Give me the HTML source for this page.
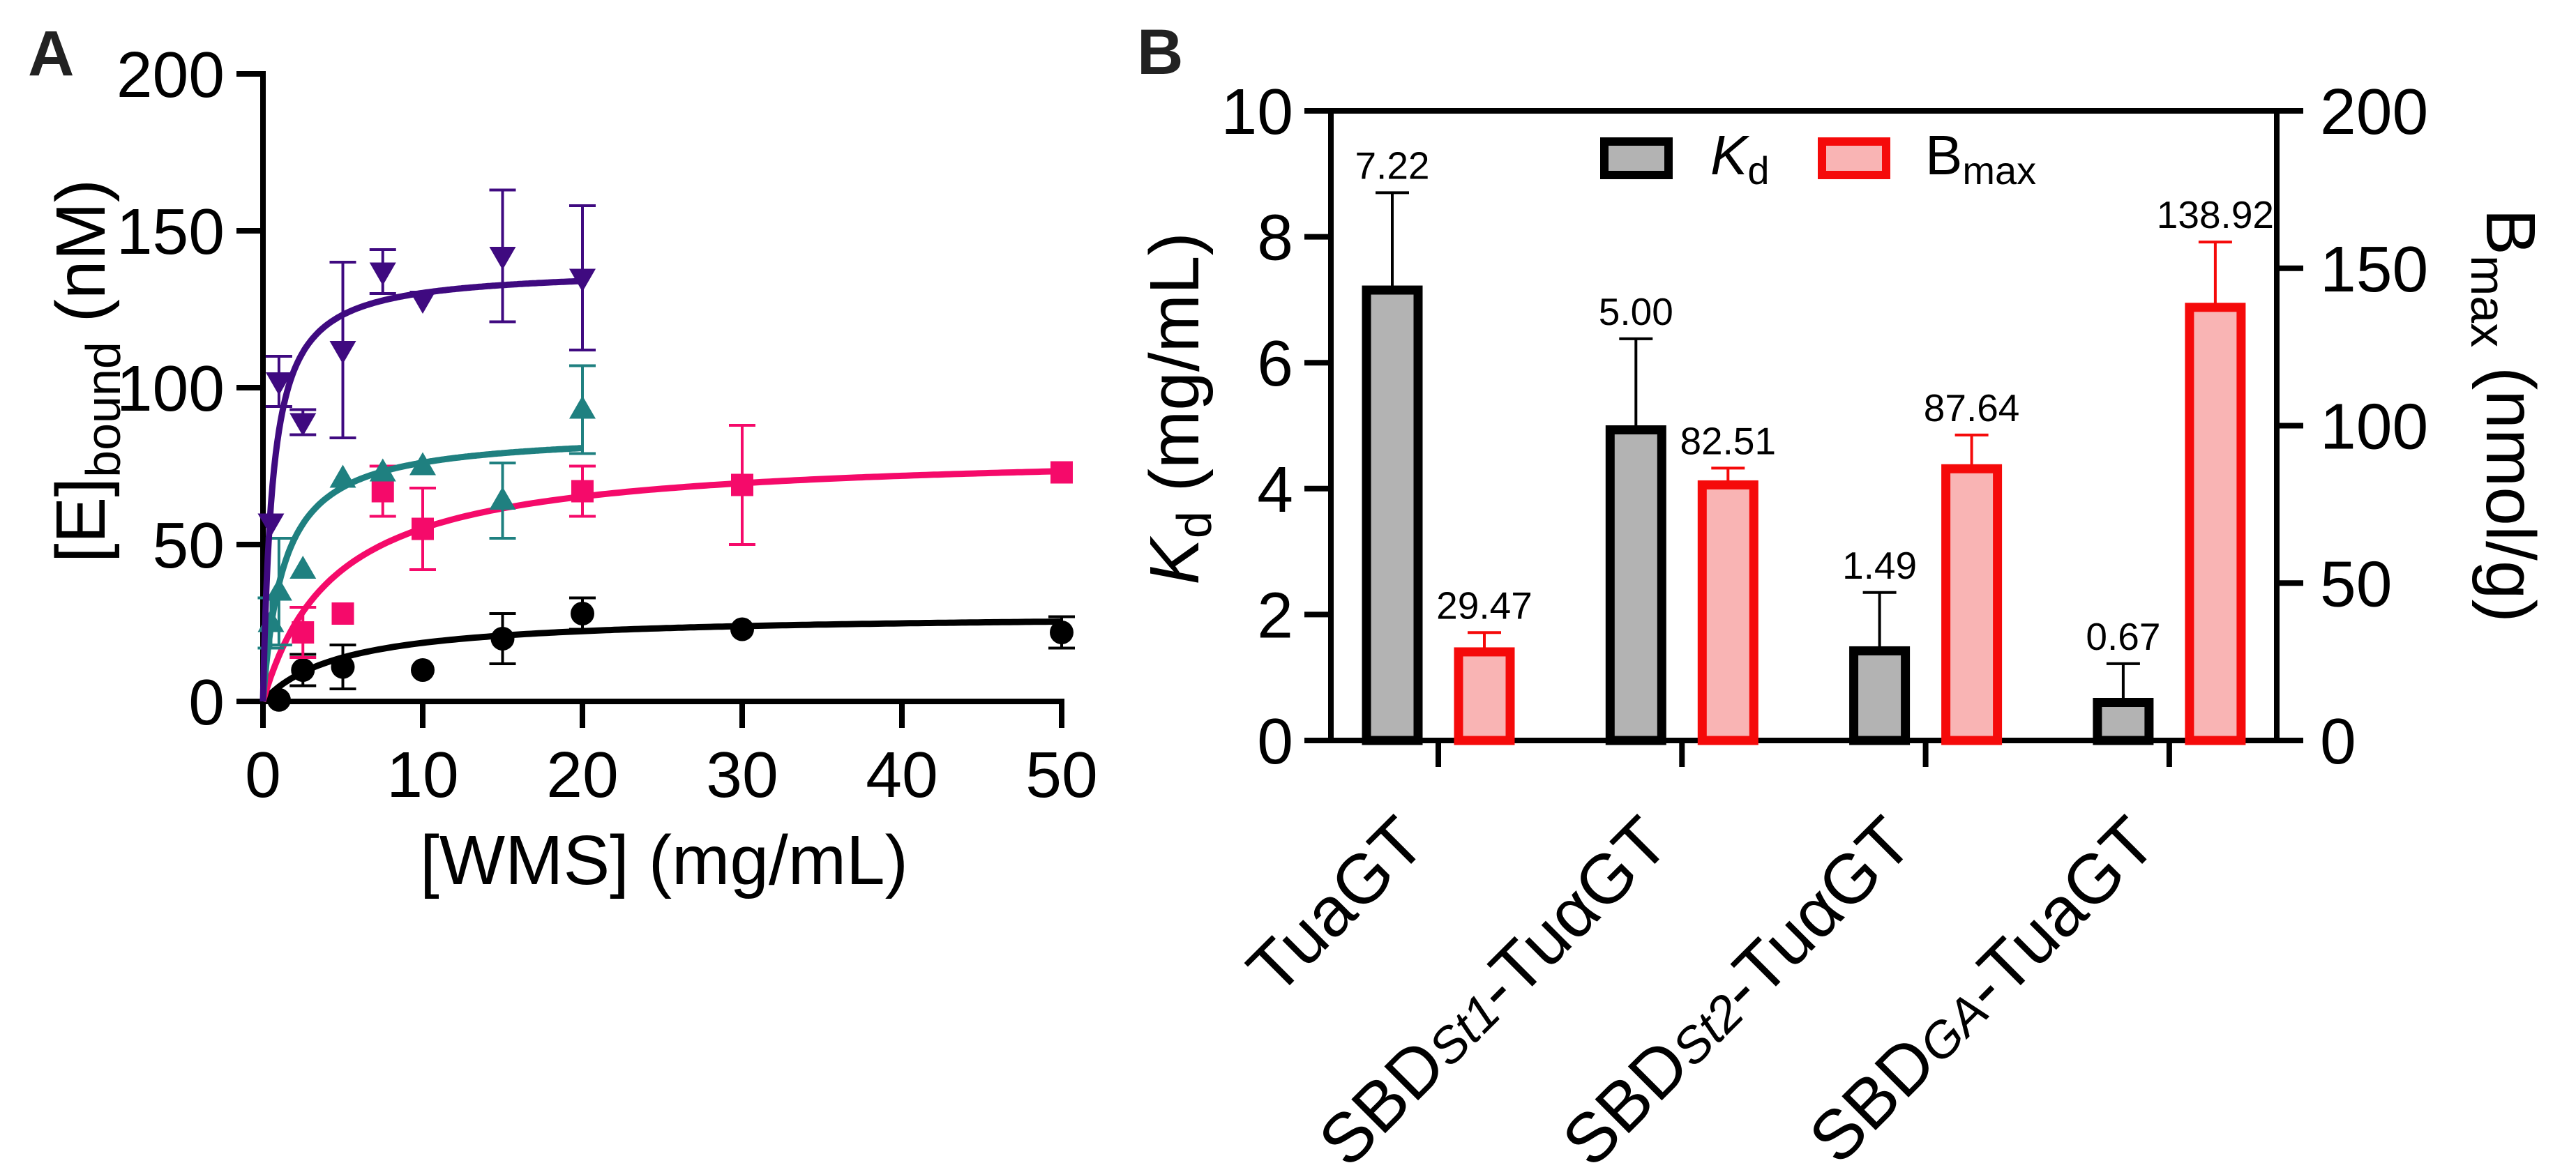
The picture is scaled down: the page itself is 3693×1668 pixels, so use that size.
<!DOCTYPE html>
<html><head><meta charset="utf-8"><style>
html,body{margin:0;padding:0;background:#fff;}
svg{display:block;font-family:"Liberation Sans",Arial,sans-serif;}
</style></head><body>
<svg id="fig" width="3693" height="1668" viewBox="0 0 3693 1668" xmlns="http://www.w3.org/2000/svg">
<rect width="3693" height="1668" fill="#fff"/>
<g id="pa"></g>
<g id="pb"></g>
</svg>
<script>
// ---------- Panel A data ----------
const aXTicks = [0,10,20,30,40,50];
const aYTicks = [0,50,100,150,200];
const blackX = [1,2.5,5,10,15,20,30,50];
const blackY = [0.5,10,11,10,20,28,23,22];
const blackErr = [0,5,7,0,8,5,0,5];
const blackFit = [28,5,50];      // Bmax, Kd, xmax
const pinkX = [2.5,5,7.5,10,20,30,50];
const pinkY = [22,28,67,55,67,69,73];
const pinkErr = [8,0,8,13,8,19,0];
const pinkFit = [80,4.5,50];
const tealX = [0.5,1,2.5,5,7.5,10,15,20];
const tealY = [25,35,42,71,73,75,64,93];
const tealErr = [8,17,0,0,0,0,12,14];
const tealFit = [86,1.3,20];
const purpX = [0.5,1,2.5,5,7.5,10,15,20];
const purpY = [57,102,89,112,137,128,142,135];
const purpErr = [0,8,4,28,7,0,21,23];
const purpFit = [138,0.6,20];
// ---------- Panel B data ----------
const bCats = ["TuaGT","SBD|St1|-TuαGT","SBD|St2|-TuαGT","SBD|GA|-TuaGT"];
const kdVals = [7.22,5.00,1.49,0.67];
const kdErr = [1.48,1.38,0.86,0.55];
const bmaxVals = [29.47,82.51,87.64,138.92];
const bmaxErr = [4.8,4.0,9.4,19.4];
const bLeftTicks = [0,2,4,6,8,10];
const bRightTicks = [0,50,100,150,200];

const NS="http://www.w3.org/2000/svg";
function mk(parent,tag,attrs,text){const e=document.createElementNS(NS,tag);for(const k in attrs)e.setAttribute(k,attrs[k]);if(text!==undefined)e.textContent=text;parent.appendChild(e);return e;}

// ===== Panel A =====
const pa=document.getElementById('pa');
const ax=v=>377+v*22.9, ay=v=>1006-v*4.5;
let t;
t=mk(pa,'text',{x:40,y:108,'font-size':92,'font-weight':'bold',fill:'#222'},'A');


let l=mk(pa,'path',{d:`M${ax(0)} ${ay(200)-4}V${ay(0)+4}M${ax(0)-4} ${ay(0)}H${ax(50)+4}`,stroke:'#000','stroke-width':8,fill:'none'});


aYTicks.forEach(v=>{
  let tk=mk(pa,'line',{x1:ax(0)-38,x2:ax(0),y1:ay(v),y2:ay(v),stroke:'#000','stroke-width':8});
  
  
  let tx=mk(pa,'text',{x:322,y:ay(v)+33,'font-size':93,'text-anchor':'end'},String(v));
  
  
});
aXTicks.forEach(v=>{
  let tk=mk(pa,'line',{x1:ax(v),x2:ax(v),y1:ay(0),y2:ay(0)+38,stroke:'#000','stroke-width':8});
  
  
  let tx=mk(pa,'text',{x:ax(v),y:1143,'font-size':93,'text-anchor':'middle'},String(v));
  
  
});
t=mk(pa,'text',{x:952,y:1268,'font-size':100,'text-anchor':'middle'},'[WMS] (mg/mL)');


t=mk(pa,'text',{x:0,y:0,'font-size':100,'text-anchor':'middle',transform:'translate(150,532) rotate(-90)'});


t.innerHTML='[E]<tspan font-size="70" dy="22">bound</tspan><tspan dy="-22"> (nM)</tspan>';

function series(xs,ys,es,fit,color,shape,name){
  const g=mk(pa,'g',{});
  
  
  let d='';const n=200;
  for(let i=0;i<=n;i++){const x=fit[2]*i/n;const y=fit[0]*x/(fit[1]+x);d+=(i?'L':'M')+ax(x).toFixed(1)+' '+ay(y).toFixed(1);}
  let c=mk(g,'path',{d:d,stroke:color,'stroke-width':9,fill:'none'});
  
  
  xs.forEach((x,i)=>{
    const px=ax(x),py=ay(ys[i]);
    if(es[i]>0){
      const y1=ay(ys[i]+es[i]),y2=ay(ys[i]-es[i]);
      let eb=mk(g,'path',{d:`M${px} ${y1}V${y2}M${px-19} ${y1}H${px+19}M${px-19} ${y2}H${px+19}`,stroke:color,'stroke-width':4,fill:'none'});
      
      
    }
    let m;
    if(shape==='circle') m=mk(g,'circle',{cx:px,cy:py,r:17,fill:color});
    else if(shape==='square') m=mk(g,'rect',{x:px-16,y:py-16,width:32,height:32,fill:color});
    else if(shape==='up') m=mk(g,'path',{d:`M${px} ${py-20}L${px+19} ${py+13}L${px-19} ${py+13}Z`,fill:color});
    else m=mk(g,'path',{d:`M${px} ${py+20}L${px+19} ${py-13}L${px-19} ${py-13}Z`,fill:color});
    
    
  });
}
series(blackX,blackY,blackErr,blackFit,'#000','circle','black');
series(pinkX,pinkY,pinkErr,pinkFit,'#f50a6a','square','pink');
series(tealX,tealY,tealErr,tealFit,'#1f8080','up','teal');
series(purpX,purpY,purpErr,purpFit,'#3f0a80','down','purple');

// ===== Panel B =====
const pb=document.getElementById('pb');
const bL=1908,bR=3264,topY=159,base=1062;
const ky=v=>base-v*90.3, by=v=>base-v*4.515;
const catX=i=>2062+i*349.3;
t=mk(pb,'text',{x:1630,y:106,'font-size':92,'font-weight':'bold',fill:'#222'},'B');


l=mk(pb,'path',{d:`M${bL} ${topY-4}V${base+4}M${bR} ${topY-4}V${base+4}M${bL-38} ${topY}H${bR+38}M${bL-4} ${base}H${bR+38}`,stroke:'#000','stroke-width':8,fill:'none'});


bLeftTicks.forEach(v=>{
  let tk=mk(pb,'line',{x1:bL-38,x2:bL,y1:ky(v),y2:ky(v),stroke:'#000','stroke-width':8});
  
  
  let tx=mk(pb,'text',{x:1854,y:ky(v)+33,'font-size':93,'text-anchor':'end'},String(v));
  
  
});
bRightTicks.forEach(v=>{
  let tk=mk(pb,'line',{x1:bR,x2:bR+38,y1:by(v),y2:by(v),stroke:'#000','stroke-width':8});
  
  
  let tx=mk(pb,'text',{x:3326,y:by(v)+33,'font-size':93},String(v));
  
  
});
t=mk(pb,'text',{x:0,y:0,'font-size':100,'text-anchor':'middle',transform:'translate(1718,586) rotate(-90)'});


t.innerHTML='<tspan font-style="italic">K</tspan><tspan font-size="70" dy="18">d</tspan><tspan dy="-18"> (mg/mL)</tspan>';
t=mk(pb,'text',{x:0,y:0,'font-size':100,'text-anchor':'middle',transform:'translate(3565,596) rotate(90)'});


t.innerHTML='B<tspan font-size="70" dy="22">max</tspan><tspan dy="-22"> (nmol/g)</tspan>';

function bar(cx,yTop,yErr,fill,stroke,label,name){
  let eb=mk(pb,'path',{d:`M${cx} ${yTop}V${yErr}M${cx-24} ${yErr}H${cx+24}`,stroke:stroke==='#000'?'#000':'#f50a0a','stroke-width':4,fill:'none'});
  
  
  let r=mk(pb,'rect',{x:cx-37,y:yTop+6,width:74,height:base-yTop-6,fill:fill,stroke:stroke,'stroke-width':13});
  
  
  let tx=mk(pb,'text',{x:cx,y:yErr-20,'font-size':55,'text-anchor':'middle'},label);
  
  
}
bCats.forEach((c,i)=>{
  const cx=catX(i);
  bar(cx-66,ky(kdVals[i]),ky(kdVals[i]+kdErr[i]),'#b3b3b3','#000',kdVals[i].toFixed(2),'kd-bar');
  bar(cx+66,by(bmaxVals[i]),by(bmaxVals[i]+bmaxErr[i]),'#f9b4b4','#f50a0a',bmaxVals[i].toFixed(2),'bmax-bar');
  let tk=mk(pb,'line',{x1:cx,x2:cx,y1:base,y2:base+38,stroke:'#000','stroke-width':8});
  
  
  const parts=c.split('|');
  let tx=mk(pb,'text',{x:0,y:0,'font-size':100,'text-anchor':'end',transform:`translate(${cx-14},${base+152}) rotate(-45)`});
  
  
  if(parts.length===1) tx.textContent=parts[0];
  else tx.innerHTML=parts[0]+'<tspan font-size="72" font-style="italic">'+parts[1]+'</tspan>'+parts[2];
});
let lg=mk(pb,'g',{});


let sw=mk(lg,'rect',{x:2300,y:203,width:92,height:48,fill:'#b3b3b3',stroke:'#000','stroke-width':12});


let lt=mk(lg,'text',{x:2452,y:250,'font-size':80});


lt.innerHTML='<tspan font-style="italic">K</tspan><tspan font-size="56" dy="14">d</tspan>';
sw=mk(lg,'rect',{x:2612,y:203,width:92,height:48,fill:'#f9b4b4',stroke:'#f50a0a','stroke-width':12});


lt=mk(lg,'text',{x:2760,y:250,'font-size':80});


lt.innerHTML='B<tspan font-size="56" dy="14">max</tspan>';
</script>
</body></html>
